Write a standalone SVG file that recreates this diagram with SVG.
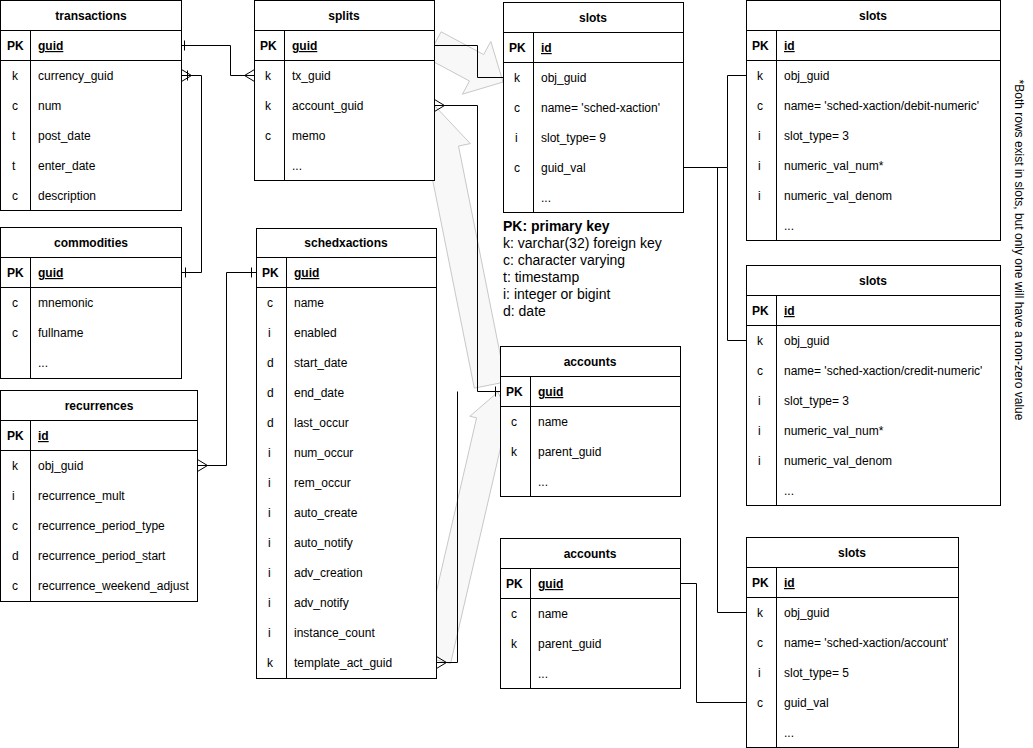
<svg xmlns="http://www.w3.org/2000/svg" width="1033" height="748" viewBox="0 0 1033 748">
<style>
text{font-family:"Liberation Sans",Arial,sans-serif;font-size:12px;fill:#000}
.t{font-weight:bold;text-anchor:middle}
.pk{font-weight:bold}
.u{font-weight:bold;text-decoration:underline}
.b{fill:#fff;stroke:#000;stroke-width:1}
.l{fill:none;stroke:#000;stroke-width:1}
.arw{fill:#f8f8f8;stroke:#c8c8c8;stroke-width:1}
.lg{font-size:14px}
</style>
<rect width="1033" height="748" fill="#fff"/>
<g id="arrows">
<polygon class="arw" points="426.9,58.2 469.5,81 462.4,94.2 503,82 490.8,41.4 483.7,54.6 441.1,31.8"/>
<polygon class="arw" points="505.7,381.9 458.5,146 470.3,143.6 434,105 415.3,154.6 427.1,152.2 474.3,388.1"/>
<polygon class="arw" points="450.6,663.4 505.9,424.6 512.7,426.2 498,392 469.8,416.3 476.6,417.8 421.4,656.6"/>
</g>
<g id="transactions">
<rect class="b" x="0.5" y="0.5" width="181" height="210"/>
<line class="l" x1="0.5" y1="30.5" x2="181.5" y2="30.5"/><line class="l" x1="0.5" y1="60.5" x2="181.5" y2="60.5"/><line class="l" x1="30.5" y1="30.5" x2="30.5" y2="210.5"/>
<text class="t" x="91" y="20">transactions</text>
<text class="pk" x="7" y="50">PK</text><text class="u" x="38" y="50">guid</text>
<text x="12" y="80">k</text><text x="38" y="80">currency_guid</text>
<text x="12" y="110">c</text><text x="38" y="110">num</text>
<text x="12" y="140">t</text><text x="38" y="140">post_date</text>
<text x="12" y="170">t</text><text x="38" y="170">enter_date</text>
<text x="12" y="200">c</text><text x="38" y="200">description</text>
</g>
<g id="splits">
<rect class="b" x="254.5" y="0.5" width="180" height="180"/>
<line class="l" x1="254.5" y1="30.5" x2="434.5" y2="30.5"/><line class="l" x1="254.5" y1="60.5" x2="434.5" y2="60.5"/><line class="l" x1="284.5" y1="30.5" x2="284.5" y2="180.5"/>
<text class="t" x="344" y="20">splits</text>
<text class="pk" x="260" y="50">PK</text><text class="u" x="292" y="50">guid</text>
<text x="265" y="80">k</text><text x="292" y="80">tx_guid</text>
<text x="265" y="110">k</text><text x="292" y="110">account_guid</text>
<text x="265" y="140">c</text><text x="292" y="140">memo</text>
<text x="292" y="170">...</text>
</g>
<g id="commodities">
<rect class="b" x="0.5" y="227.5" width="181" height="151"/>
<line class="l" x1="0.5" y1="257.5" x2="181.5" y2="257.5"/><line class="l" x1="0.5" y1="287.5" x2="181.5" y2="287.5"/><line class="l" x1="30.5" y1="257.5" x2="30.5" y2="378.5"/>
<text class="t" x="91" y="247">commodities</text>
<text class="pk" x="7" y="277">PK</text><text class="u" x="38" y="277">guid</text>
<text x="12" y="307">c</text><text x="38" y="307">mnemonic</text>
<text x="12" y="337">c</text><text x="38" y="337">fullname</text>
<text x="38" y="367">...</text>
</g>
<g id="recurrences">
<rect class="b" x="0.5" y="390.5" width="197" height="211"/>
<line class="l" x1="0.5" y1="420.5" x2="197.5" y2="420.5"/><line class="l" x1="0.5" y1="450.5" x2="197.5" y2="450.5"/><line class="l" x1="30.5" y1="420.5" x2="30.5" y2="601.5"/>
<text class="t" x="99" y="410">recurrences</text>
<text class="pk" x="7" y="440">PK</text><text class="u" x="38" y="440">id</text>
<text x="12" y="470">k</text><text x="38" y="470">obj_guid</text>
<text x="12" y="500">i</text><text x="38" y="500">recurrence_mult</text>
<text x="12" y="530">c</text><text x="38" y="530">recurrence_period_type</text>
<text x="12" y="560">d</text><text x="38" y="560">recurrence_period_start</text>
<text x="12" y="590">c</text><text x="38" y="590">recurrence_weekend_adjust</text>
</g>
<g id="schedxactions">
<rect class="b" x="256.5" y="228.5" width="180" height="450"/>
<line class="l" x1="256.5" y1="257.5" x2="436.5" y2="257.5"/><line class="l" x1="256.5" y1="287.5" x2="436.5" y2="287.5"/><line class="l" x1="286.5" y1="257.5" x2="286.5" y2="678.5"/>
<text class="t" x="346" y="247">schedxactions</text>
<text class="pk" x="262" y="277">PK</text><text class="u" x="294" y="277">guid</text>
<text x="267" y="307">c</text><text x="294" y="307">name</text>
<text x="268" y="337">i</text><text x="294" y="337">enabled</text>
<text x="267" y="367">d</text><text x="294" y="367">start_date</text>
<text x="267" y="397">d</text><text x="294" y="397">end_date</text>
<text x="267" y="427">d</text><text x="294" y="427">last_occur</text>
<text x="268" y="457">i</text><text x="294" y="457">num_occur</text>
<text x="268" y="487">i</text><text x="294" y="487">rem_occur</text>
<text x="268" y="517">i</text><text x="294" y="517">auto_create</text>
<text x="268" y="547">i</text><text x="294" y="547">auto_notify</text>
<text x="268" y="577">i</text><text x="294" y="577">adv_creation</text>
<text x="268" y="607">i</text><text x="294" y="607">adv_notify</text>
<text x="268" y="637">i</text><text x="294" y="637">instance_count</text>
<text x="267" y="667">k</text><text x="294" y="667">template_act_guid</text>
</g>
<g id="slots1">
<rect class="b" x="503.5" y="2.5" width="180" height="210"/>
<line class="l" x1="503.5" y1="32.5" x2="683.5" y2="32.5"/><line class="l" x1="503.5" y1="62.5" x2="683.5" y2="62.5"/><line class="l" x1="533.5" y1="32.5" x2="533.5" y2="212.5"/>
<text class="t" x="593" y="22">slots</text>
<text class="pk" x="509" y="52">PK</text><text class="u" x="541" y="52">id</text>
<text x="514" y="82">k</text><text x="541" y="82">obj_guid</text>
<text x="514" y="112">c</text><text x="541" y="112">name= 'sched-xaction'</text>
<text x="515" y="142">i</text><text x="541" y="142">slot_type= 9</text>
<text x="514" y="172">c</text><text x="541" y="172">guid_val</text>
<text x="541" y="202">...</text>
</g>
<g id="legend">
<text class="lg" x="503" y="231" font-weight="bold">PK: primary key</text>
<text class="lg" x="503" y="248">k: varchar(32) foreign key</text>
<text class="lg" x="503" y="265">c: character varying</text>
<text class="lg" x="503" y="282">t: timestamp</text>
<text class="lg" x="503" y="299">i: integer or bigint</text>
<text class="lg" x="503" y="316">d: date</text>
</g>
<g id="slots_debit">
<rect class="b" x="746.5" y="0.5" width="254" height="240"/>
<line class="l" x1="746.5" y1="30.5" x2="1000.5" y2="30.5"/><line class="l" x1="746.5" y1="60.5" x2="1000.5" y2="60.5"/><line class="l" x1="776.5" y1="30.5" x2="776.5" y2="240.5"/>
<text class="t" x="873" y="20">slots</text>
<text class="pk" x="752" y="50">PK</text><text class="u" x="784" y="50">id</text>
<text x="757" y="80">k</text><text x="784" y="80">obj_guid</text>
<text x="757" y="110">c</text><text x="784" y="110">name= 'sched-xaction/debit-numeric'</text>
<text x="758" y="140">i</text><text x="784" y="140">slot_type= 3</text>
<text x="758" y="170">i</text><text x="784" y="170">numeric_val_num*</text>
<text x="758" y="200">i</text><text x="784" y="200">numeric_val_denom</text>
<text x="784" y="230">...</text>
</g>
<g id="slots_credit">
<rect class="b" x="746.5" y="265.5" width="254" height="240"/>
<line class="l" x1="746.5" y1="295.5" x2="1000.5" y2="295.5"/><line class="l" x1="746.5" y1="325.5" x2="1000.5" y2="325.5"/><line class="l" x1="776.5" y1="295.5" x2="776.5" y2="505.5"/>
<text class="t" x="873" y="285">slots</text>
<text class="pk" x="752" y="315">PK</text><text class="u" x="784" y="315">id</text>
<text x="757" y="345">k</text><text x="784" y="345">obj_guid</text>
<text x="757" y="375">c</text><text x="784" y="375">name= 'sched-xaction/credit-numeric'</text>
<text x="758" y="405">i</text><text x="784" y="405">slot_type= 3</text>
<text x="758" y="435">i</text><text x="784" y="435">numeric_val_num*</text>
<text x="758" y="465">i</text><text x="784" y="465">numeric_val_denom</text>
<text x="784" y="495">...</text>
</g>
<g id="accounts1">
<rect class="b" x="500.5" y="346.5" width="180" height="150"/>
<line class="l" x1="500.5" y1="376.5" x2="680.5" y2="376.5"/><line class="l" x1="500.5" y1="406.5" x2="680.5" y2="406.5"/><line class="l" x1="530.5" y1="376.5" x2="530.5" y2="496.5"/>
<text class="t" x="590" y="366">accounts</text>
<text class="pk" x="506" y="396">PK</text><text class="u" x="538" y="396">guid</text>
<text x="511" y="426">c</text><text x="538" y="426">name</text>
<text x="511" y="456">k</text><text x="538" y="456">parent_guid</text>
<text x="538" y="486">...</text>
</g>
<g id="accounts2">
<rect class="b" x="500.5" y="538.5" width="180" height="150"/>
<line class="l" x1="500.5" y1="568.5" x2="680.5" y2="568.5"/><line class="l" x1="500.5" y1="598.5" x2="680.5" y2="598.5"/><line class="l" x1="530.5" y1="568.5" x2="530.5" y2="688.5"/>
<text class="t" x="590" y="558">accounts</text>
<text class="pk" x="506" y="588">PK</text><text class="u" x="538" y="588">guid</text>
<text x="511" y="618">c</text><text x="538" y="618">name</text>
<text x="511" y="648">k</text><text x="538" y="648">parent_guid</text>
<text x="538" y="678">...</text>
</g>
<g id="slots_account">
<rect class="b" x="746.5" y="537.5" width="212" height="210"/>
<line class="l" x1="746.5" y1="567.5" x2="958.5" y2="567.5"/><line class="l" x1="746.5" y1="597.5" x2="958.5" y2="597.5"/><line class="l" x1="776.5" y1="567.5" x2="776.5" y2="747.5"/>
<text class="t" x="852" y="557">slots</text>
<text class="pk" x="752" y="587">PK</text><text class="u" x="784" y="587">id</text>
<text x="757" y="617">k</text><text x="784" y="617">obj_guid</text>
<text x="757" y="647">c</text><text x="784" y="647">name= 'sched-xaction/account'</text>
<text x="758" y="677">i</text><text x="784" y="677">slot_type= 5</text>
<text x="757" y="707">c</text><text x="784" y="707">guid_val</text>
<text x="784" y="737">...</text>
</g>
<g id="connectors" class="l">
<path class="l" d="M181.5,45.5 H230.5 V75.5 H254.5"/>
<path class="l" d="M184.5,40.5 V50.5 M244.5,75.5 L254.5,69.5 M244.5,75.5 L254.5,81.5"/>
<path class="l" d="M181.5,272.5 H201.5 V75.5 H181.5"/>
<path class="l" d="M185.5,267.5 V277.5 M187.5,70.5 V80.5 M191.5,75.5 L181.5,69.5 M191.5,75.5 L181.5,81.5"/>
<path class="l" d="M256.5,272.5 H226.5 V465.5 H197.5"/>
<path class="l" d="M251.5,267.5 V277.5 M207.5,465.5 L197.5,459.5 M207.5,465.5 L197.5,471.5"/>
<path class="l" d="M434.5,45.5 H477.5 V77.5 H503.5"/>
<path class="l" d="M434.5,105.5 H477.5 V391.5 H500.5"/>
<path class="l" d="M436.5,662.5 H457.5 V391.5"/>
<path class="l" d="M495.5,386.5 V396.5 M444.5,105.5 L434.5,99.5 M444.5,105.5 L434.5,111.5 M446.5,662.5 L436.5,656.5 M446.5,662.5 L436.5,668.5"/>
<path class="l" d="M683.5,167.5 H727.5 V75.5 H746.5"/>
<path class="l" d="M727.5,167.5 V340.5 H746.5"/>
<path class="l" d="M717.5,167.5 V612.5 H746.5"/>
<path class="l" d="M680.5,583.5 H696.5 V702.5 H746.5"/>
</g>
<text x="1015" y="250" text-anchor="middle" transform="rotate(90 1015 250)">*Both rows exist in slots, but only one will have a non-zero value</text>
</svg>
